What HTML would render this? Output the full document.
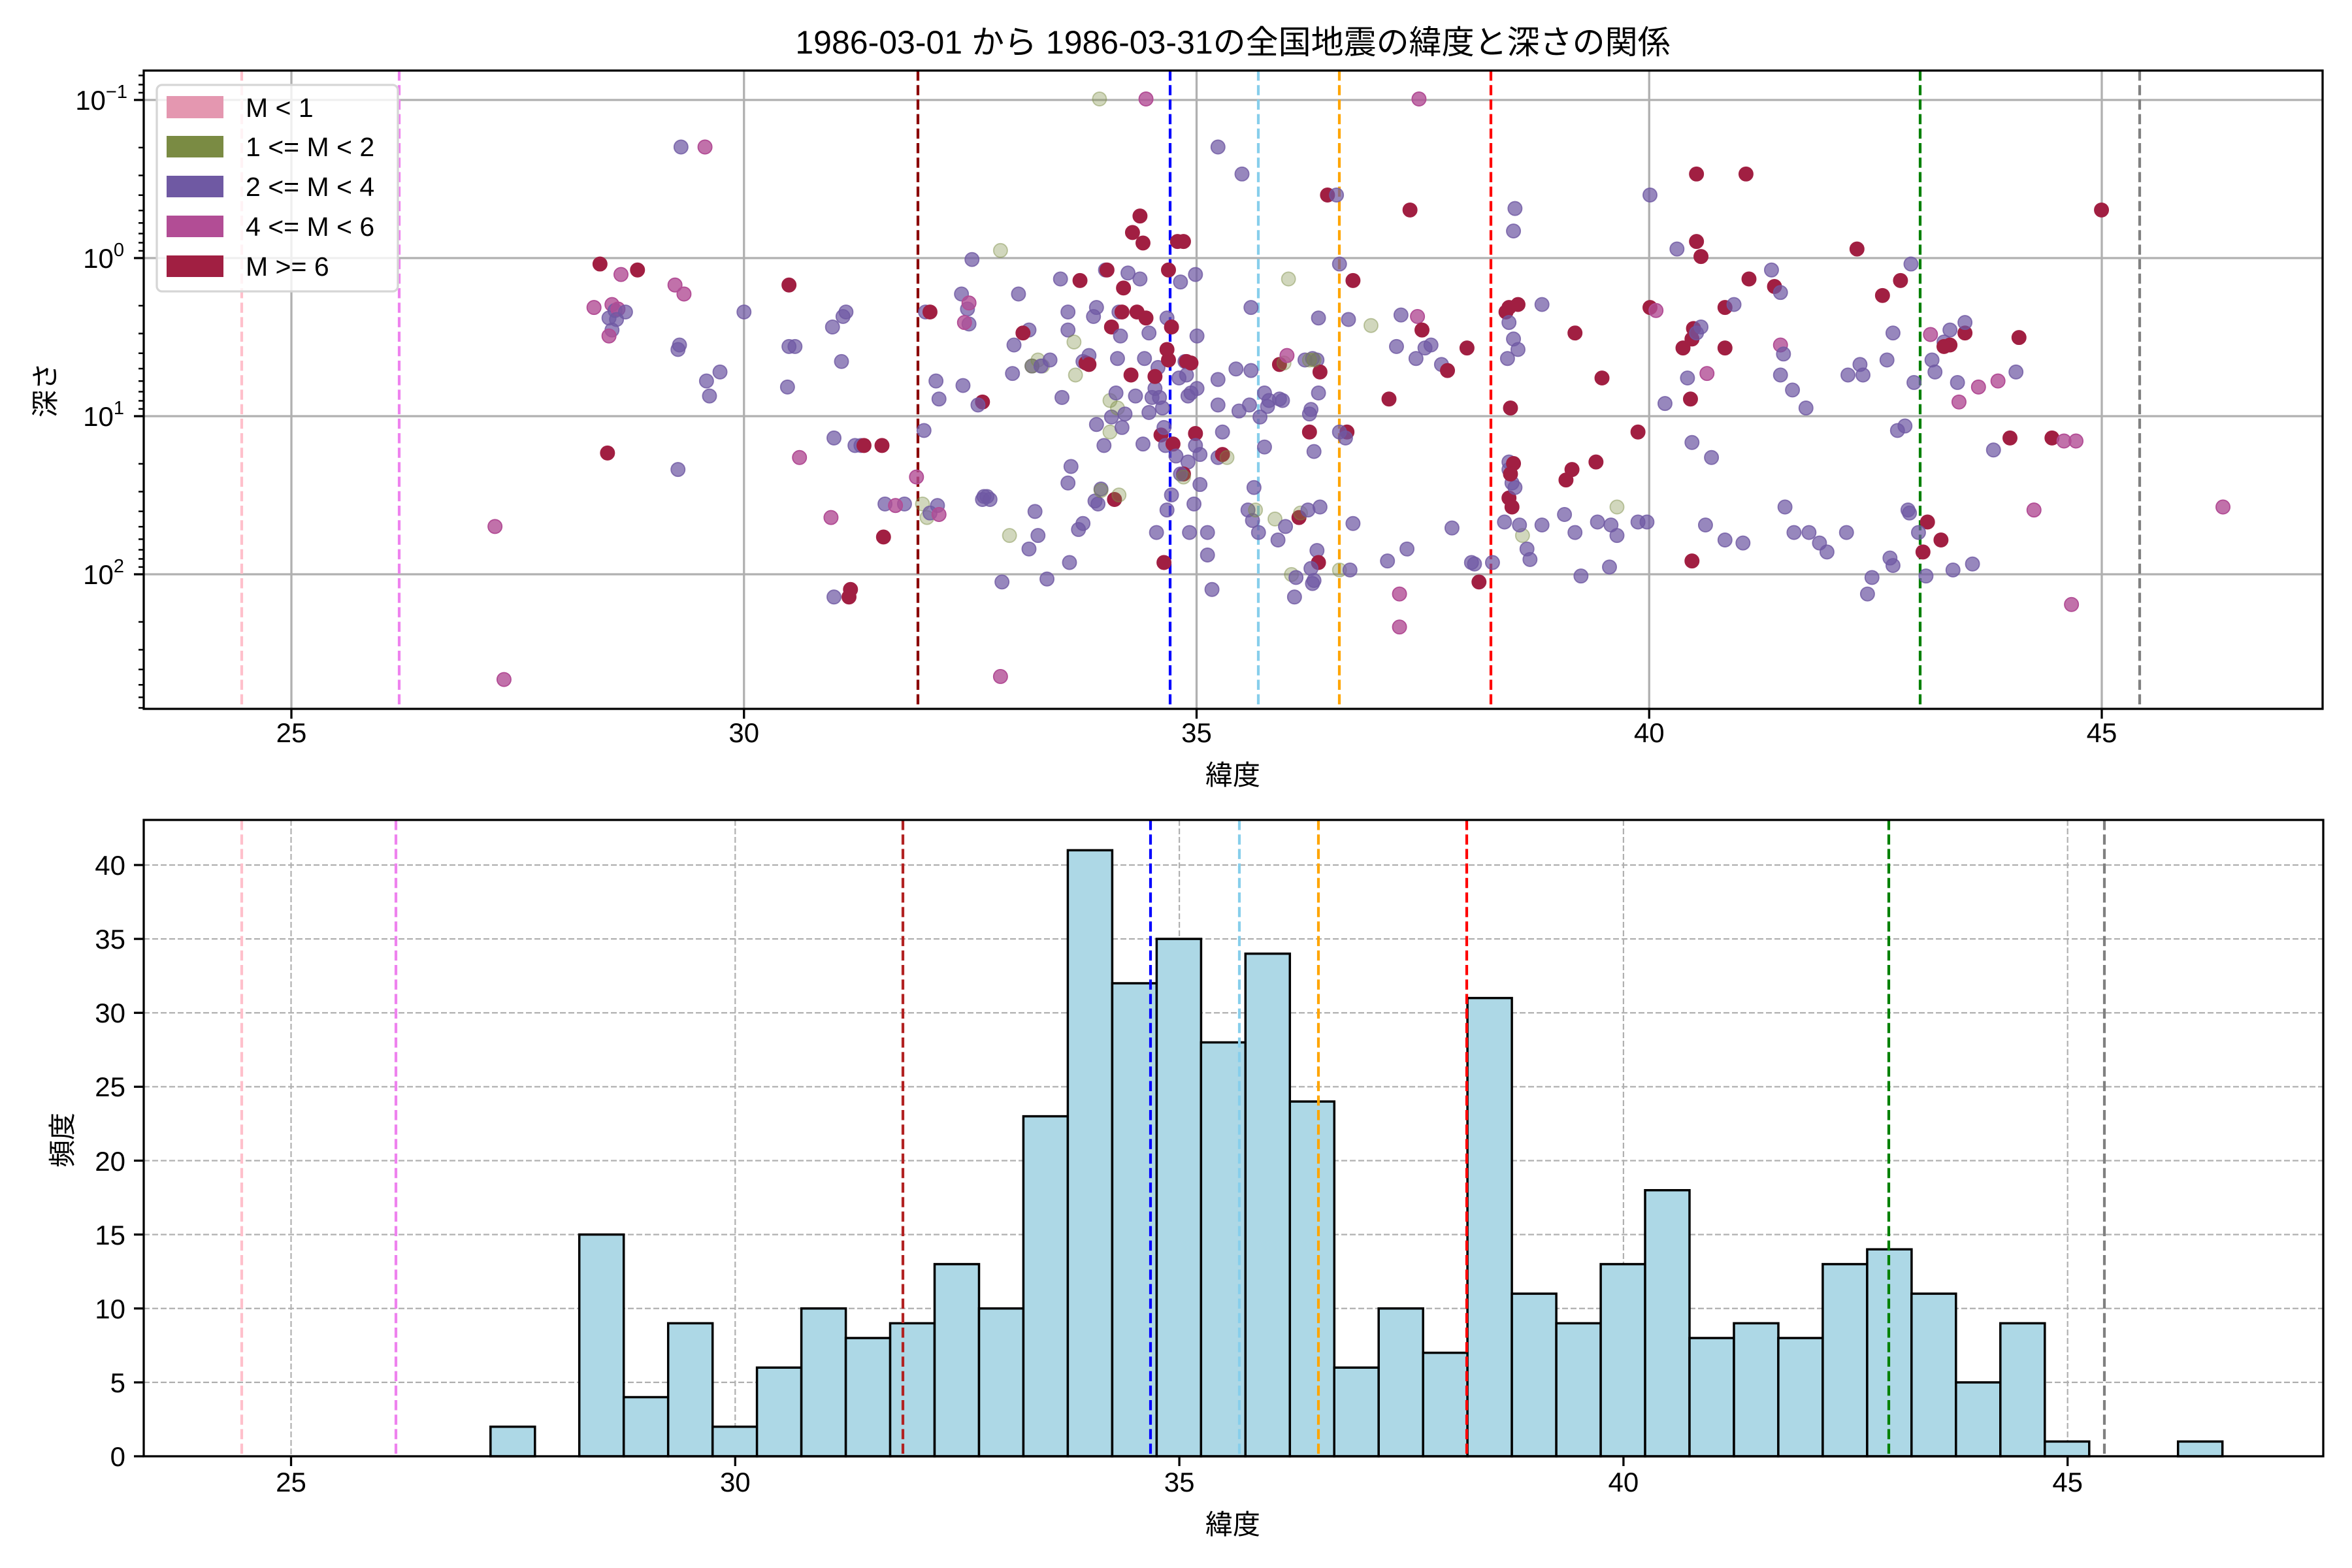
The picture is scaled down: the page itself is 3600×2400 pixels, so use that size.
<!DOCTYPE html>
<html><head><meta charset="utf-8"><style>
html,body{margin:0;padding:0;background:#fff}
svg{display:block}
text{font-family:"Liberation Sans","Noto Sans CJK JP",sans-serif;fill:#000}
.p{fill:#6f59a3;fill-opacity:.72;stroke:#6f59a3;stroke-opacity:.8;stroke-width:.8;r:4.6px}
.g{fill:#7a8b43;fill-opacity:.35;stroke:#7a8b43;stroke-opacity:.45;stroke-width:.8;r:4.6px}
.m{fill:#b24d95;fill-opacity:.8;stroke:#b24d95;stroke-width:.8;r:4.6px}
.c{fill:#a11f42;stroke:#a11f42;stroke-width:.8;r:4.6px}
</style></head><body>
<svg width="3600" height="2400" viewBox="0 0 3600 2400" xmlns="http://www.w3.org/2000/svg">
<rect width="3600" height="2400" fill="#fff"/>
<!-- title -->
<text x="1887" y="82" font-size="50" text-anchor="middle">1986-03-01 から 1986-03-31の全国地震の緯度と深さの関係</text>

<!-- ===== TOP AXES ===== -->
<g stroke="#b0b0b0" stroke-width="3.3">
<line x1="446" y1="108" x2="446" y2="1085"/><line x1="1138.75" y1="108" x2="1138.75" y2="1085"/><line x1="1831.5" y1="108" x2="1831.5" y2="1085"/><line x1="2524.25" y1="108" x2="2524.25" y2="1085"/><line x1="3217" y1="108" x2="3217" y2="1085"/>
<line x1="220" y1="153" x2="3555" y2="153"/><line x1="220" y1="395" x2="3555" y2="395"/><line x1="220" y1="637" x2="3555" y2="637"/><line x1="220" y1="879" x2="3555" y2="879"/>
</g>
<g stroke-width="4.2" stroke-dasharray="15.5,6.7" fill="none">
<line x1="370" y1="108" x2="370" y2="1085" stroke="pink"/>
<line x1="611" y1="108" x2="611" y2="1085" stroke="violet"/>
<line x1="1405" y1="108" x2="1405" y2="1085" stroke="darkred"/>
<line x1="1791" y1="108" x2="1791" y2="1085" stroke="blue"/>
<line x1="1926" y1="108" x2="1926" y2="1085" stroke="skyblue"/>
<line x1="2050" y1="108" x2="2050" y2="1085" stroke="orange"/>
<line x1="2282" y1="108" x2="2282" y2="1085" stroke="red"/>
<line x1="2939" y1="108" x2="2939" y2="1085" stroke="green"/>
<line x1="3275" y1="108" x2="3275" y2="1085" stroke="gray"/>
</g>
<!-- scatter points (display coords scaled) -->
<g transform="scale(2.2959)">
<circle class="g" cx="733" cy="66"/><circle class="m" cx="764" cy="66"/><circle class="m" cx="946" cy="66"/>
<circle class="p" cx="454" cy="98"/><circle class="m" cx="470" cy="98"/><circle class="p" cx="812" cy="98"/><circle class="p" cx="828" cy="116"/>
<circle class="c" cx="400" cy="176"/><circle class="m" cx="396" cy="205"/><circle class="m" cx="408" cy="203"/><circle class="p" cx="406" cy="212"/><circle class="m" cx="414" cy="183"/><circle class="p" cx="410" cy="207"/><circle class="m" cx="412" cy="206"/><circle class="c" cx="425" cy="180"/><circle class="p" cx="408" cy="220"/><circle class="m" cx="406" cy="224"/><circle class="p" cx="417" cy="208"/><circle class="p" cx="411" cy="213"/>
<circle class="m" cx="450" cy="190"/><circle class="m" cx="456" cy="196"/><circle class="p" cx="452" cy="233"/><circle class="p" cx="453" cy="230"/><circle class="p" cx="471" cy="254"/><circle class="p" cx="473" cy="264"/><circle class="p" cx="480" cy="248"/><circle class="p" cx="496" cy="208"/><circle class="p" cx="452" cy="313"/><circle class="c" cx="405" cy="302"/>
<circle class="m" cx="330" cy="351"/><circle class="m" cx="336" cy="453"/>
<circle class="c" cx="526" cy="190"/><circle class="p" cx="526" cy="231"/><circle class="p" cx="530" cy="231"/><circle class="p" cx="525" cy="258"/><circle class="m" cx="533" cy="305"/><circle class="p" cx="555" cy="218"/><circle class="p" cx="562" cy="211"/><circle class="p" cx="556" cy="292"/><circle class="p" cx="561" cy="241"/><circle class="p" cx="564" cy="208"/><circle class="p" cx="570" cy="297"/><circle class="p" cx="574" cy="297"/><circle class="c" cx="576" cy="297"/><circle class="m" cx="554" cy="345"/><circle class="p" cx="556" cy="398"/><circle class="c" cx="567" cy="393"/><circle class="c" cx="566" cy="398"/><circle class="c" cx="588" cy="297"/><circle class="p" cx="590" cy="336"/><circle class="p" cx="603" cy="336"/><circle class="m" cx="597" cy="337"/><circle class="c" cx="589" cy="358"/>
<circle class="p" cx="617" cy="208"/><circle class="c" cx="620" cy="208"/><circle class="p" cx="616" cy="287"/><circle class="g" cx="615" cy="336"/><circle class="p" cx="624" cy="254"/><circle class="p" cx="626" cy="266"/><circle class="g" cx="618" cy="345"/><circle class="p" cx="620" cy="342"/><circle class="p" cx="625" cy="337"/><circle class="m" cx="626" cy="343"/><circle class="m" cx="611" cy="318"/><circle class="p" cx="641" cy="196"/><circle class="p" cx="645" cy="206"/><circle class="p" cx="646" cy="216"/><circle class="m" cx="646" cy="202"/><circle class="m" cx="643" cy="215"/><circle class="c" cx="655" cy="268"/><circle class="p" cx="648" cy="173"/><circle class="g" cx="667" cy="167"/><circle class="p" cx="642" cy="257"/><circle class="p" cx="652" cy="270"/><circle class="p" cx="655" cy="333"/><circle class="p" cx="656" cy="331"/><circle class="p" cx="658" cy="331"/><circle class="g" cx="673" cy="357"/><circle class="p" cx="660" cy="333"/><circle class="p" cx="668" cy="388"/><circle class="m" cx="667" cy="451"/>
<circle class="p" cx="676" cy="230"/><circle class="p" cx="686" cy="220"/><circle class="p" cx="688" cy="244"/><circle class="g" cx="688" cy="244"/><circle class="g" cx="692" cy="240"/><circle class="g" cx="695" cy="244"/><circle class="p" cx="694" cy="244"/><circle class="p" cx="675" cy="249"/><circle class="p" cx="679" cy="196"/><circle class="c" cx="682" cy="222"/><circle class="p" cx="690" cy="341"/><circle class="p" cx="692" cy="357"/><circle class="p" cx="686" cy="366"/><circle class="p" cx="698" cy="386"/><circle class="p" cx="700" cy="240"/><circle class="p" cx="707" cy="186"/><circle class="p" cx="708" cy="265"/><circle class="p" cx="712" cy="208"/><circle class="p" cx="712" cy="220"/><circle class="g" cx="716" cy="228"/><circle class="p" cx="714" cy="311"/><circle class="p" cx="712" cy="322"/><circle class="p" cx="713" cy="375"/><circle class="g" cx="717" cy="250"/><circle class="p" cx="719" cy="353"/><circle class="c" cx="720" cy="187"/><circle class="p" cx="722" cy="241"/><circle class="p" cx="722" cy="349"/><circle class="c" cx="724" cy="242"/><circle class="p" cx="726" cy="237"/><circle class="p" cx="731" cy="205"/><circle class="p" cx="729" cy="211"/><circle class="c" cx="726" cy="243"/><circle class="p" cx="737" cy="180"/>
<circle class="c" cx="738" cy="180"/><circle class="c" cx="741" cy="218"/><circle class="p" cx="731" cy="283"/><circle class="p" cx="736" cy="297"/><circle class="p" cx="734" cy="326"/><circle class="p" cx="730" cy="334"/><circle class="p" cx="732" cy="336"/><circle class="g" cx="734" cy="327"/><circle class="g" cx="740" cy="267"/><circle class="p" cx="741" cy="278"/><circle class="p" cx="744" cy="262"/><circle class="g" cx="745" cy="272"/><circle class="g" cx="740" cy="288"/><circle class="c" cx="743" cy="333"/><circle class="p" cx="748" cy="285"/><circle class="p" cx="747" cy="224"/><circle class="p" cx="746" cy="208"/><circle class="c" cx="748" cy="208"/><circle class="p" cx="745" cy="239"/><circle class="c" cx="749" cy="192"/><circle class="g" cx="746" cy="330"/><circle class="p" cx="750" cy="276"/><circle class="p" cx="752" cy="182"/><circle class="c" cx="754" cy="250"/><circle class="c" cx="758" cy="208"/><circle class="c" cx="755" cy="155"/><circle class="c" cx="760" cy="144"/><circle class="p" cx="760" cy="186"/><circle class="c" cx="762" cy="162"/><circle class="p" cx="757" cy="264"/><circle class="p" cx="763" cy="239"/><circle class="p" cx="766" cy="275"/><circle class="p" cx="762" cy="296"/><circle class="p" cx="766" cy="222"/><circle class="c" cx="764" cy="212"/><circle class="p" cx="768" cy="265"/><circle class="p" cx="770" cy="259"/><circle class="p" cx="772" cy="245"/><circle class="p" cx="773" cy="265"/><circle class="c" cx="770" cy="251"/><circle class="c" cx="774" cy="290"/><circle class="p" cx="776" cy="285"/><circle class="p" cx="775" cy="272"/><circle class="p" cx="777" cy="297"/><circle class="c" cx="779" cy="180"/><circle class="p" cx="778" cy="340"/><circle class="c" cx="776" cy="375"/><circle class="p" cx="771" cy="355"/><circle class="p" cx="778" cy="212"/><circle class="c" cx="781" cy="218"/><circle class="c" cx="782" cy="296"/><circle class="p" cx="784" cy="304"/><circle class="p" cx="787" cy="188"/><circle class="c" cx="785" cy="161"/><circle class="c" cx="789" cy="161"/><circle class="p" cx="790" cy="241"/><circle class="c" cx="791" cy="241"/><circle class="p" cx="791" cy="250"/><circle class="p" cx="792" cy="264"/><circle class="p" cx="794" cy="262"/><circle class="c" cx="794" cy="242"/><circle class="c" cx="797" cy="289"/><circle class="p" cx="797" cy="183"/><circle class="p" cx="797" cy="297"/><circle class="p" cx="796" cy="336"/><circle class="p" cx="800" cy="303"/><circle class="p" cx="800" cy="323"/><circle class="p" cx="793" cy="355"/><circle class="p" cx="792" cy="308"/><circle class="c" cx="789" cy="316"/><circle class="p" cx="787" cy="316"/><circle class="p" cx="781" cy="330"/><circle class="p" cx="798" cy="259"/><circle class="g" cx="789" cy="318"/><circle class="p" cx="786" cy="252"/><circle class="c" cx="779" cy="240"/><circle class="c" cx="778" cy="233"/><circle class="p" cx="798" cy="224"/>
<circle class="p" cx="805" cy="355"/><circle class="p" cx="805" cy="370"/><circle class="p" cx="808" cy="393"/><circle class="p" cx="812" cy="270"/><circle class="p" cx="812" cy="253"/><circle class="p" cx="812" cy="305"/><circle class="p" cx="815" cy="288"/><circle class="c" cx="815" cy="303"/><circle class="g" cx="818" cy="305"/><circle class="p" cx="824" cy="246"/><circle class="p" cx="826" cy="274"/><circle class="p" cx="834" cy="247"/><circle class="p" cx="833" cy="270"/><circle class="p" cx="832" cy="340"/><circle class="p" cx="835" cy="347"/><circle class="p" cx="839" cy="355"/><circle class="p" cx="834" cy="205"/><circle class="p" cx="836" cy="325"/><circle class="g" cx="837" cy="340"/><circle class="p" cx="840" cy="278"/><circle class="p" cx="843" cy="298"/><circle class="p" cx="843" cy="262"/><circle class="p" cx="845" cy="271"/><circle class="p" cx="846" cy="267"/><circle class="g" cx="850" cy="346"/><circle class="p" cx="852" cy="360"/><circle class="p" cx="853" cy="266"/><circle class="c" cx="853" cy="243"/><circle class="p" cx="855" cy="267"/><circle class="g" cx="856" cy="242"/><circle class="p" cx="857" cy="351"/><circle class="m" cx="858" cy="237"/><circle class="g" cx="859" cy="186"/><circle class="g" cx="861" cy="383"/><circle class="p" cx="863" cy="398"/><circle class="p" cx="864" cy="385"/><circle class="c" cx="866" cy="345"/><circle class="g" cx="867" cy="342"/><circle class="p" cx="870" cy="240"/><circle class="c" cx="873" cy="288"/><circle class="p" cx="873" cy="276"/><circle class="p" cx="874" cy="273"/><circle class="p" cx="875" cy="239"/><circle class="p" cx="878" cy="240"/><circle class="c" cx="880" cy="248"/><circle class="p" cx="879" cy="212"/><circle class="p" cx="879" cy="262"/><circle class="p" cx="876" cy="301"/><circle class="p" cx="878" cy="367"/><circle class="c" cx="879" cy="375"/><circle class="p" cx="872" cy="340"/><circle class="p" cx="874" cy="379"/><circle class="p" cx="875" cy="389"/><circle class="p" cx="876" cy="387"/><circle class="g" cx="873" cy="240"/><circle class="g" cx="876" cy="240"/><circle class="p" cx="880" cy="338"/><circle class="c" cx="885" cy="130"/><circle class="p" cx="891" cy="130"/><circle class="p" cx="893" cy="176"/><circle class="p" cx="899" cy="213"/><circle class="c" cx="898" cy="288"/><circle class="c" cx="902" cy="187"/><circle class="g" cx="893" cy="380"/><circle class="p" cx="900" cy="380"/><circle class="p" cx="902" cy="349"/><circle class="p" cx="893" cy="288"/><circle class="p" cx="897" cy="292"/>
<circle class="g" cx="914" cy="217"/><circle class="p" cx="925" cy="374"/><circle class="c" cx="926" cy="266"/><circle class="m" cx="933" cy="396"/><circle class="m" cx="933" cy="418"/><circle class="p" cx="931" cy="231"/><circle class="p" cx="934" cy="210"/><circle class="c" cx="940" cy="140"/><circle class="p" cx="938" cy="366"/><circle class="p" cx="944" cy="239"/><circle class="m" cx="945" cy="211"/><circle class="c" cx="948" cy="220"/><circle class="p" cx="950" cy="232"/><circle class="p" cx="954" cy="230"/><circle class="p" cx="961" cy="243"/><circle class="c" cx="965" cy="247"/><circle class="p" cx="968" cy="352"/><circle class="c" cx="978" cy="232"/><circle class="p" cx="981" cy="375"/><circle class="c" cx="986" cy="388"/><circle class="p" cx="983" cy="376"/><circle class="p" cx="995" cy="375"/><circle class="p" cx="1003" cy="348"/><circle class="c" cx="1004" cy="208"/><circle class="c" cx="1006" cy="205"/><circle class="p" cx="1006" cy="215"/><circle class="p" cx="1005" cy="239"/><circle class="p" cx="1006" cy="308"/><circle class="p" cx="1006" cy="313"/><circle class="p" cx="1008" cy="322"/><circle class="p" cx="1010" cy="139"/><circle class="p" cx="1009" cy="154"/><circle class="p" cx="1009" cy="226"/><circle class="c" cx="1006" cy="332"/><circle class="c" cx="1008" cy="338"/><circle class="c" cx="1009" cy="309"/><circle class="p" cx="1010" cy="325"/><circle class="c" cx="1012" cy="203"/><circle class="p" cx="1012" cy="233"/><circle class="c" cx="1007" cy="272"/><circle class="c" cx="1007" cy="316"/><circle class="g" cx="1015" cy="357"/><circle class="p" cx="1013" cy="350"/><circle class="p" cx="1018" cy="366"/><circle class="p" cx="1020" cy="373"/><circle class="p" cx="1028" cy="203"/><circle class="p" cx="1028" cy="350"/><circle class="p" cx="1043" cy="343"/><circle class="c" cx="1050" cy="222"/><circle class="c" cx="1044" cy="320"/><circle class="c" cx="1048" cy="313"/><circle class="p" cx="1050" cy="355"/><circle class="p" cx="1054" cy="384"/><circle class="p" cx="1065" cy="348"/><circle class="g" cx="1078" cy="338"/><circle class="p" cx="1074" cy="350"/><circle class="c" cx="1068" cy="252"/><circle class="c" cx="1064" cy="308"/><circle class="p" cx="1078" cy="357"/><circle class="p" cx="1073" cy="378"/><circle class="p" cx="1092" cy="348"/><circle class="p" cx="1098" cy="348"/><circle class="p" cx="1100" cy="130"/><circle class="c" cx="1100" cy="205"/><circle class="m" cx="1104" cy="207"/>
<circle class="c" cx="1092" cy="288"/><circle class="p" cx="1110" cy="269"/><circle class="p" cx="1118" cy="166"/><circle class="p" cx="1125" cy="252"/><circle class="c" cx="1128" cy="374"/><circle class="c" cx="1127" cy="266"/><circle class="c" cx="1122" cy="232"/><circle class="c" cx="1128" cy="226"/><circle class="p" cx="1128" cy="295"/><circle class="c" cx="1129" cy="219"/><circle class="c" cx="1131" cy="161"/><circle class="c" cx="1131" cy="116"/><circle class="c" cx="1134" cy="171"/><circle class="p" cx="1131" cy="222"/><circle class="p" cx="1134" cy="218"/><circle class="p" cx="1137" cy="350"/><circle class="m" cx="1138" cy="249"/><circle class="p" cx="1141" cy="305"/><circle class="c" cx="1150" cy="232"/><circle class="c" cx="1150" cy="205"/><circle class="p" cx="1156" cy="203"/><circle class="p" cx="1150" cy="360"/><circle class="c" cx="1164" cy="116"/><circle class="c" cx="1166" cy="186"/><circle class="p" cx="1162" cy="362"/><circle class="p" cx="1181" cy="180"/><circle class="c" cx="1183" cy="191"/><circle class="p" cx="1187" cy="195"/><circle class="p" cx="1187" cy="250"/><circle class="m" cx="1187" cy="230"/><circle class="p" cx="1189" cy="236"/><circle class="p" cx="1190" cy="338"/><circle class="p" cx="1195" cy="260"/><circle class="p" cx="1196" cy="355"/><circle class="p" cx="1204" cy="272"/><circle class="p" cx="1206" cy="355"/><circle class="p" cx="1213" cy="362"/><circle class="p" cx="1218" cy="368"/><circle class="p" cx="1231" cy="355"/><circle class="p" cx="1232" cy="250"/><circle class="c" cx="1238" cy="166"/><circle class="p" cx="1240" cy="243"/><circle class="p" cx="1242" cy="250"/><circle class="p" cx="1245" cy="396"/><circle class="p" cx="1248" cy="385"/><circle class="c" cx="1255" cy="197"/><circle class="p" cx="1258" cy="240"/><circle class="p" cx="1260" cy="372"/><circle class="c" cx="1267" cy="187"/><circle class="p" cx="1262" cy="222"/><circle class="p" cx="1262" cy="377"/><circle class="p" cx="1265" cy="287"/><circle class="p" cx="1270" cy="284"/><circle class="p" cx="1272" cy="340"/><circle class="p" cx="1274" cy="176"/><circle class="p" cx="1276" cy="255"/><circle class="p" cx="1273" cy="342"/><circle class="c" cx="1285" cy="348"/><circle class="p" cx="1279" cy="355"/><circle class="c" cx="1282" cy="368"/><circle class="p" cx="1284" cy="384"/><circle class="p" cx="1288" cy="240"/><circle class="p" cx="1290" cy="248"/><circle class="m" cx="1287" cy="223"/><circle class="p" cx="1296" cy="228"/><circle class="c" cx="1300" cy="230"/><circle class="p" cx="1302" cy="380"/><circle class="c" cx="1294" cy="360"/><circle class="m" cx="1306" cy="268"/><circle class="p" cx="1305" cy="255"/><circle class="c" cx="1310" cy="222"/><circle class="p" cx="1310" cy="215"/><circle class="p" cx="1315" cy="376"/><circle class="c" cx="1296" cy="231"/><circle class="p" cx="1300" cy="220"/>
<circle class="m" cx="1319" cy="258"/><circle class="m" cx="1332" cy="254"/><circle class="p" cx="1329" cy="300"/><circle class="c" cx="1340" cy="292"/><circle class="c" cx="1346" cy="225"/><circle class="m" cx="1356" cy="340"/><circle class="p" cx="1344" cy="248"/><circle class="c" cx="1368" cy="292"/><circle class="m" cx="1376" cy="294"/><circle class="m" cx="1384" cy="294"/><circle class="m" cx="1381" cy="403"/><circle class="c" cx="1401" cy="140"/><circle class="m" cx="1482" cy="338"/>
</g>
<!-- top spines & ticks -->
<rect x="220" y="108" width="3335" height="977" fill="none" stroke="#000" stroke-width="3.3"/>
<g stroke="#000" stroke-width="3.3">
<line x1="446" y1="1085" x2="446" y2="1100"/><line x1="1138.75" y1="1085" x2="1138.75" y2="1100"/><line x1="1831.5" y1="1085" x2="1831.5" y2="1100"/><line x1="2524.25" y1="1085" x2="2524.25" y2="1100"/><line x1="3217" y1="1085" x2="3217" y2="1100"/>
<line x1="205" y1="153" x2="220" y2="153"/><line x1="205" y1="395" x2="220" y2="395"/><line x1="205" y1="637" x2="220" y2="637"/><line x1="205" y1="879" x2="220" y2="879"/>
</g>
<g stroke="#000" stroke-width="2.5">
<line x1="212" x2="220" y1="141.9" y2="141.9"/><line x1="212" x2="220" y1="129.5" y2="129.5"/><line x1="212" x2="220" y1="115.5" y2="115.5"/>
<line x1="212" x2="220" y1="225.9" y2="225.9"/><line x1="212" x2="220" y1="268.5" y2="268.5"/><line x1="212" x2="220" y1="298.7" y2="298.7"/><line x1="212" x2="220" y1="322.2" y2="322.2"/><line x1="212" x2="220" y1="341.3" y2="341.3"/><line x1="212" x2="220" y1="357.5" y2="357.5"/><line x1="212" x2="220" y1="371.5" y2="371.5"/><line x1="212" x2="220" y1="383.9" y2="383.9"/>
<line x1="212" x2="220" y1="467.9" y2="467.9"/><line x1="212" x2="220" y1="510.5" y2="510.5"/><line x1="212" x2="220" y1="540.7" y2="540.7"/><line x1="212" x2="220" y1="564.2" y2="564.2"/><line x1="212" x2="220" y1="583.3" y2="583.3"/><line x1="212" x2="220" y1="599.5" y2="599.5"/><line x1="212" x2="220" y1="613.5" y2="613.5"/><line x1="212" x2="220" y1="625.9" y2="625.9"/>
<line x1="212" x2="220" y1="709.9" y2="709.9"/><line x1="212" x2="220" y1="752.5" y2="752.5"/><line x1="212" x2="220" y1="782.7" y2="782.7"/><line x1="212" x2="220" y1="806.2" y2="806.2"/><line x1="212" x2="220" y1="825.3" y2="825.3"/><line x1="212" x2="220" y1="841.5" y2="841.5"/><line x1="212" x2="220" y1="855.5" y2="855.5"/><line x1="212" x2="220" y1="867.9" y2="867.9"/>
<line x1="212" x2="220" y1="951.9" y2="951.9"/><line x1="212" x2="220" y1="994.5" y2="994.5"/><line x1="212" x2="220" y1="1024.7" y2="1024.7"/><line x1="212" x2="220" y1="1048.2" y2="1048.2"/><line x1="212" x2="220" y1="1067.3" y2="1067.3"/><line x1="212" x2="220" y1="1083.5" y2="1083.5"/>
</g>
<g font-size="42" text-anchor="middle">
<text x="446" y="1136">25</text><text x="1138.75" y="1136">30</text><text x="1831.5" y="1136">35</text><text x="2524.25" y="1136">40</text><text x="3217" y="1136">45</text>
</g>
<g font-size="42" text-anchor="end">
<text x="195" y="168">10<tspan font-size="29" dy="-18">−1</tspan></text>
<text x="190" y="410">10<tspan font-size="29" dy="-18">0</tspan></text>
<text x="190" y="652">10<tspan font-size="29" dy="-18">1</tspan></text>
<text x="190" y="894">10<tspan font-size="29" dy="-18">2</tspan></text>
</g>
<text x="1887" y="1201" font-size="42" text-anchor="middle">緯度</text>
<text transform="translate(84,597) rotate(-90)" font-size="42" text-anchor="middle">深さ</text>
<!-- legend -->
<rect x="240" y="130" width="369" height="316" rx="8" fill="#fff" fill-opacity="0.8" stroke="#d6d6d6" stroke-width="3.3"/>
<rect x="255" y="147" width="87" height="34" fill="#e497b0"/>
<rect x="255" y="208" width="87" height="33" fill="#7a8b43"/>
<rect x="255" y="269" width="87" height="33" fill="#6f59a3"/>
<rect x="255" y="330" width="87" height="33" fill="#b24d95"/>
<rect x="255" y="391" width="87" height="33" fill="#a11f42"/>
<g font-size="41">
<text x="376" y="179">M &lt; 1</text>
<text x="376" y="239">1 &lt;= M &lt; 2</text>
<text x="376" y="300">2 &lt;= M &lt; 4</text>
<text x="376" y="361">4 &lt;= M &lt; 6</text>
<text x="376" y="422">M &gt;= 6</text>
</g>

<!-- ===== BOTTOM AXES ===== -->
<g stroke="#b0b0b0" stroke-width="2.2" stroke-dasharray="9,4">
<line x1="445.5" y1="1255" x2="445.5" y2="2229"/><line x1="1125.3" y1="1255" x2="1125.3" y2="2229"/><line x1="1805.1" y1="1255" x2="1805.1" y2="2229"/><line x1="2484.9" y1="1255" x2="2484.9" y2="2229"/><line x1="3164.7" y1="1255" x2="3164.7" y2="2229"/>
<line x1="220" x2="3556" y1="2115.9" y2="2115.9"/><line x1="220" x2="3556" y1="2002.75" y2="2002.75"/><line x1="220" x2="3556" y1="1889.6" y2="1889.6"/><line x1="220" x2="3556" y1="1776.5" y2="1776.5"/><line x1="220" x2="3556" y1="1663.4" y2="1663.4"/><line x1="220" x2="3556" y1="1550.25" y2="1550.25"/><line x1="220" x2="3556" y1="1437.1" y2="1437.1"/><line x1="220" x2="3556" y1="1324" y2="1324"/>
</g>
<g fill="#add8e6" stroke="#000" stroke-width="3.5">
<rect x="750.8" y="2183.75" width="68" height="45.25"/>
<rect x="886.7" y="1889.6" width="68" height="339.4"/>
<rect x="954.7" y="2138.5" width="68" height="90.5"/>
<rect x="1022.7" y="2025.4" width="68" height="203.6"/>
<rect x="1090.7" y="2183.75" width="68" height="45.25"/>
<rect x="1158.6" y="2093.25" width="68" height="135.75"/>
<rect x="1226.6" y="2002.75" width="68" height="226.25"/>
<rect x="1294.6" y="2048" width="68" height="181"/>
<rect x="1362.5" y="2025.4" width="68" height="203.6"/>
<rect x="1430.5" y="1934.9" width="68" height="294.1"/>
<rect x="1498.5" y="2002.75" width="68" height="226.25"/>
<rect x="1566.4" y="1708.6" width="68" height="520.4"/>
<rect x="1634.4" y="1301.4" width="68" height="927.6"/>
<rect x="1702.4" y="1505" width="68" height="724"/>
<rect x="1770.4" y="1437.1" width="68" height="791.9"/>
<rect x="1838.3" y="1595.5" width="68" height="633.5"/>
<rect x="1906.3" y="1459.7" width="68" height="769.3"/>
<rect x="1974.3" y="1686" width="68" height="543"/>
<rect x="2042.2" y="2093.25" width="68" height="135.75"/>
<rect x="2110.2" y="2002.75" width="68" height="226.25"/>
<rect x="2178.2" y="2070.6" width="68" height="158.4"/>
<rect x="2246.1" y="1527.6" width="68" height="701.4"/>
<rect x="2314.1" y="1980.1" width="68" height="248.9"/>
<rect x="2382.1" y="2025.4" width="68" height="203.6"/>
<rect x="2450.1" y="1934.9" width="68" height="294.1"/>
<rect x="2518" y="1821.75" width="68" height="407.25"/>
<rect x="2586" y="2048" width="68" height="181"/>
<rect x="2654" y="2025.4" width="68" height="203.6"/>
<rect x="2721.9" y="2048" width="68" height="181"/>
<rect x="2789.9" y="1934.9" width="68" height="294.1"/>
<rect x="2857.9" y="1912.25" width="68" height="316.75"/>
<rect x="2925.8" y="1980.1" width="68" height="248.9"/>
<rect x="2993.8" y="2115.9" width="68" height="113.1"/>
<rect x="3061.8" y="2025.4" width="68" height="203.6"/>
<rect x="3129.8" y="2206.4" width="68" height="22.6"/>
<rect x="3333.7" y="2206.4" width="68" height="22.6"/>
</g>
<g stroke-width="4.2" stroke-dasharray="15.5,6.7" fill="none">
<line x1="370" y1="1255" x2="370" y2="2229" stroke="pink"/>
<line x1="606" y1="1255" x2="606" y2="2229" stroke="violet"/>
<line x1="1382" y1="1255" x2="1382" y2="2229" stroke="#b22222"/>
<line x1="1761" y1="1255" x2="1761" y2="2229" stroke="blue"/>
<line x1="1897" y1="1255" x2="1897" y2="2229" stroke="skyblue"/>
<line x1="2018" y1="1255" x2="2018" y2="2229" stroke="orange"/>
<line x1="2245" y1="1255" x2="2245" y2="2229" stroke="red"/>
<line x1="2891" y1="1255" x2="2891" y2="2229" stroke="green"/>
<line x1="3221" y1="1255" x2="3221" y2="2229" stroke="gray"/>
</g>
<rect x="220" y="1255" width="3336" height="974" fill="none" stroke="#000" stroke-width="3.3"/>
<g stroke="#000" stroke-width="3.3">
<line x1="445.5" y1="2229" x2="445.5" y2="2244"/><line x1="1125.3" y1="2229" x2="1125.3" y2="2244"/><line x1="1805.1" y1="2229" x2="1805.1" y2="2244"/><line x1="2484.9" y1="2229" x2="2484.9" y2="2244"/><line x1="3164.7" y1="2229" x2="3164.7" y2="2244"/>
<line x1="205" x2="220" y1="2229" y2="2229"/><line x1="205" x2="220" y1="2115.9" y2="2115.9"/><line x1="205" x2="220" y1="2002.75" y2="2002.75"/><line x1="205" x2="220" y1="1889.6" y2="1889.6"/><line x1="205" x2="220" y1="1776.5" y2="1776.5"/><line x1="205" x2="220" y1="1663.4" y2="1663.4"/><line x1="205" x2="220" y1="1550.25" y2="1550.25"/><line x1="205" x2="220" y1="1437.1" y2="1437.1"/><line x1="205" x2="220" y1="1324" y2="1324"/>
</g>
<g font-size="42" text-anchor="middle">
<text x="445.5" y="2283">25</text><text x="1125.3" y="2283">30</text><text x="1805.1" y="2283">35</text><text x="2484.9" y="2283">40</text><text x="3164.7" y="2283">45</text>
</g>
<g font-size="42" text-anchor="end">
<text x="192" y="2244">0</text><text x="192" y="2131">5</text><text x="192" y="2018">10</text><text x="192" y="1905">15</text><text x="192" y="1792">20</text><text x="192" y="1678">25</text><text x="192" y="1565">30</text><text x="192" y="1452">35</text><text x="192" y="1339">40</text>
</g>
<text x="1887" y="2348" font-size="42" text-anchor="middle">緯度</text>
<text transform="translate(110,1745) rotate(-90)" font-size="42" text-anchor="middle">頻度</text>
</svg>
</body></html>
